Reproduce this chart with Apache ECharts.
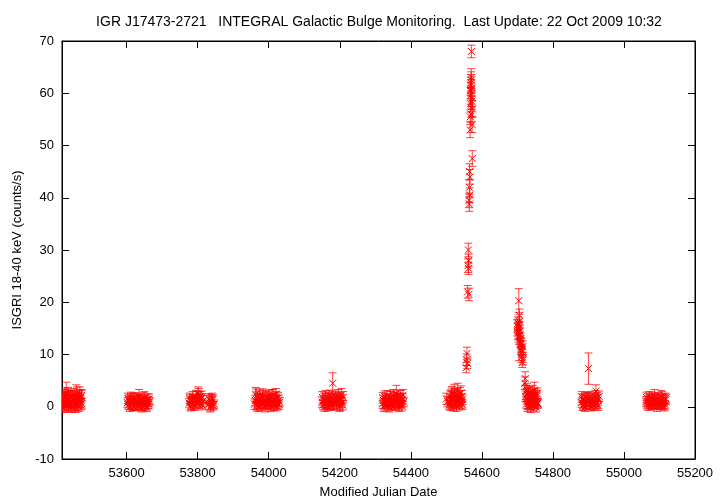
<!DOCTYPE html>
<html><head><meta charset="utf-8">
<script src="https://cdn.jsdelivr.net/npm/echarts@6/dist/echarts.min.js"></script>
<style>html,body{margin:0;padding:0;background:#fff}#c{width:720px;height:504px}</style>
</head><body><div id="c"></div>
<script>
const titleText = "IGR J17473-2721   INTEGRAL Galactic Bulge Monitoring.  Last Update: 22 Oct 2009 10:32";
const xTicks = [53600,53800,54000,54200,54400,54600,54800,55000,55200];
const yTicks = [-10,0,10,20,30,40,50,60,70];

// Cluster 1
const mjd1 = [53419,53420,53421,53422,53423,53424,53425,53426,53427,53428,53429,53430,53432,53433,53434,53435,53436,53437,53438,53440,53441,53442,53443,53444,53446,53447,53449,53450,53451,53452,53453,53455,53456,53458,53459,53460,53461,53462,53464,53465,53466,53467,53468,53470,53471,53472,53473,53474];
const rate1 = [1.2,0.0,0.5,1.5,2.1,-0.2,0.8,2.4,1.6,0.9,0.2,2.4,1.0,1.8,0.4,2.5,2.2,0.1,1.3,0.7,2.0,1.8,-0.1,0.1,1.1,1.9,2.0,0.3,0.6,2.3,1.5,0.9,-0.2,2.3,1.2,0.3,2.6,1.4,1.7,0.0,0.8,2.1,2.5,1.0,0.4,1.9,2.2,0.6];
const err1 = [1.1,1.0,1.0,1.1,1.2,0.9,0.9,1.2,1.3,1.0,1.0,2.3,1.1,1.0,1.0,1.2,1.2,0.9,1.1,0.9,1.1,1.3,1.0,1.0,1.1,1.0,1.2,0.9,1.0,1.2,1.1,0.9,0.9,1.9,1.0,1.0,1.2,1.2,1.1,0.9,1.0,1.1,1.3,1.1,1.0,1.2,1.1,1.0];
// Cluster 2
const mjd2 = [53602,53603,53605,53606,53608,53609,53611,53612,53614,53615,53617,53618,53620,53621,53623,53624,53626,53627,53629,53630,53632,53633,53635,53636,53638,53639,53641,53642,53644,53645,53647,53648,53650,53651,53653,53654,53656,53657,53659,53660,53662,53663,53665];
const rate2 = [0.8,1.6,0.3,1.2,1.4,-0.1,0.6,1.8,1.1,0.4,0.2,1.5,1.6,0.0,0.9,1.7,0.4,1.3,1.2,0.1,0.7,1.5,1.9,0.3,0.5,1.4,1.3,-0.2,0.1,1.1,1.0,1.7,1.6,0.2,0.3,1.2,0.8,-0.1,1.4,0.6,0.5,1.5,1.0];
const err2 = [0.9,1.0,0.8,0.9,1.0,0.8,0.9,1.0,0.8,0.9,0.9,1.0,1.0,0.8,0.8,1.0,0.9,0.9,1.0,0.8,0.9,1.0,1.4,0.8,0.8,1.0,1.0,0.8,0.9,0.9,0.8,1.0,1.3,0.8,0.9,0.9,0.8,0.8,1.0,0.9,0.9,1.0,0.8];
// Cluster 3
const mjd3 = [53776,53777,53779,53780,53782,53783,53785,53786,53788,53789,53791,53792,53794,53795,53797,53798,53800,53801,53803,53804,53806,53807,53809,53810,53812,53813,53815,53831,53832,53834,53835,53837,53838,53840,53841,53843,53844,53846];
const rate3 = [0.7,1.6,1.3,0.0,0.2,1.1,1.0,1.9,0.5,1.4,1.5,0.1,0.9,2.0,1.8,0.6,1.2,2.6,2.3,0.8,1.4,1.9,0.6,1.5,1.9,0.3,1.1,0.4,1.5,1.2,-0.1,0.1,1.3,0.9,1.6,1.4,0.2,0.5];
const err3 = [0.9,1.0,1.0,0.8,0.8,0.9,0.9,1.0,1.0,0.9,0.9,0.8,1.0,1.1,1.1,0.9,0.9,1.2,1.2,0.9,1.0,1.0,0.9,1.0,1.1,0.9,1.0,0.9,1.0,1.0,0.9,0.9,1.0,1.0,1.0,0.9,0.8,0.8];
// Cluster 4
const mjd4 = [53960,53962,53963,53965,53966,53968,53969,53971,53972,53974,53975,53977,53978,53980,53981,53983,53984,53986,53987,53989,53990,53992,53993,53995,53996,53998,53999,54001,54002,54004,54005,54007,54008,54010,54011,54013,54014,54016,54017,54019,54020,54022,54023,54025,54026,54028,54029,54031];
const rate4 = [0.5,1.2,2.4,2.1,0.1,0.5,1.9,1.6,0.0,0.8,2.2,0.2,1.5,1.4,0.7,1.9,2.3,0.6,1.3,1.1,-0.1,0.3,1.8,1.7,0.5,1.0,2.1,0.4,1.6,1.3,0.0,2.0,1.0,0.7,2.2,1.5,0.3,0.2,1.4,1.1,2.4,1.8,0.1,0.6,1.7,1.2,0.4,0.9];
const err4 = [1.0,1.0,1.3,1.3,0.9,0.9,1.1,1.0,0.9,1.1,1.2,0.9,1.0,1.0,0.9,1.2,1.1,0.9,1.0,1.0,0.9,0.9,1.1,1.1,0.9,1.0,1.1,0.9,1.0,1.0,0.9,1.2,0.9,0.9,1.1,1.0,0.9,0.9,1.0,1.0,1.1,1.1,0.9,0.9,1.0,1.0,0.9,0.9];
// Cluster 5
const mjd5 = [54150,54151,54153,54154,54156,54157,54159,54160,54162,54163,54165,54166,54168,54169,54171,54172,54174,54175,54177,54178,54180,54181,54183,54184,54186,54187,54189,54190,54192,54193,54195,54196,54198,54199,54201,54202,54204,54205,54207,54208,54210];
const rate5 = [0.9,1.8,0.3,1.2,1.5,0.0,0.7,2.0,1.2,0.5,0.1,1.6,1.7,0.4,0.8,2.1,1.3,0.2,0.5,1.9,4.5,1.0,1.4,0.3,0.6,1.8,1.9,0.9,0.4,1.5,1.1,2.2,1.6,0.0,0.2,1.4,1.3,2.3,0.8,0.3,1.8];
const err5 = [1.0,1.1,0.9,1.0,1.1,0.9,0.9,1.1,1.0,0.9,0.9,1.0,1.1,0.9,1.0,1.1,0.9,0.9,1.0,1.1,2.0,0.9,1.0,0.9,0.9,1.0,1.1,0.9,0.9,1.0,1.0,1.1,1.1,0.9,0.9,1.0,1.0,1.2,0.9,0.9,1.1];
// Cluster 6
const mjd6 = [54320,54321,54323,54324,54326,54327,54329,54330,54332,54333,54335,54336,54338,54339,54341,54342,54344,54345,54347,54348,54350,54351,54353,54354,54356,54357,54359,54360,54362,54363,54365,54366,54368,54369,54371,54372,54374,54375,54377,54378,54380];
const rate6 = [0.6,1.7,1.2,0.0,0.3,1.9,1.5,0.6,0.8,2.0,0.1,1.1,1.3,-0.1,0.7,1.9,1.8,0.3,0.4,1.4,1.1,2.2,1.6,0.2,0.5,1.8,2.5,1.0,0.9,2.1,1.4,0.0,0.3,1.6,1.2,2.0,0.7,0.1,1.5,2.2,0.9];
const err6 = [0.9,1.0,1.0,0.9,0.9,1.1,1.0,0.9,0.9,1.1,0.9,1.0,1.0,0.9,0.9,1.1,1.1,0.9,0.9,1.0,1.0,1.1,1.1,0.9,0.9,1.0,1.6,1.0,1.0,1.1,1.0,0.9,0.9,1.0,1.0,1.1,0.9,0.9,1.0,1.1,0.9];
// Cluster 7 (pre-outburst)
const mjd7 = [54500,54503,54508,54510,54511,54512,54513,54514,54515,54516,54518,54519,54520,54521,54522,54524,54525,54526,54528,54529,54530,54532,54533,54534,54536,54537,54538,54540,54541,54542,54544,54545,54546];
const rate7 = [1.5,1.0,0.3,0.8,1.9,2.0,0.2,1.2,2.4,2.6,0.5,1.0,1.7,0.1,2.9,1.1,2.2,0.7,2.3,0.0,1.5,3.1,1.2,0.9,1.9,0.3,2.5,1.3,2.7,0.6,2.0,0.4,1.4];
const err7 = [1.1,1.0,0.9,1.0,1.1,1.2,0.9,1.0,1.2,1.3,0.9,1.0,1.1,0.9,1.4,1.0,1.2,0.9,1.2,0.9,1.1,1.4,1.0,1.0,1.1,0.9,1.2,1.0,1.3,0.9,1.1,0.9,1.0];
// Outburst peak
const mjd8 = [54556,54557,54558,54559,54560,54561,54562,54562.5,54563,54563.5,54564,54564.5,54565,54565.5,54566,54566.5,54567,54567.5,54568,54568.2,54568.5,54569,54569.2,54569.5,54570,54570.2,54570.5,54571,54571.5,54572,54572.5,54573,54573.5];
const rate8 = [7.5,9.0,10.2,8.3,22.0,27.0,30.0,26.5,28.0,21.5,39.5,38.8,42.0,45.0,40.5,44.0,53.0,55.5,58.0,59.5,60.5,62.0,61.5,56.0,63.0,62.5,68.0,61.0,58.5,59.0,54.0,47.5,57.0];
const err8 = [1.0,1.1,1.2,1.0,1.2,1.3,1.3,1.2,1.2,1.2,1.4,1.4,1.4,1.5,1.4,1.4,1.5,1.5,1.6,1.6,1.6,1.6,1.6,1.5,1.7,1.6,1.2,1.6,1.6,1.6,1.5,1.5,1.6];
// Decay
const mjd9 = [54700,54700.5,54701,54702,54702.5,54703,54704,54704.5,54705,54705.5,54706,54707,54707.5,54708,54709,54709.5,54710,54711,54712,54712.5,54713,54714,54715,54716];
const rate9 = [15.5,14.8,14.0,16.0,15.2,13.5,20.3,12.5,15.0,16.4,17.5,14.5,13.8,12.5,13.0,12.2,11.0,12.0,9.5,10.8,10.5,8.5,11.5,9.0];
const err9 = [1.2,1.1,1.1,1.2,1.2,1.1,2.3,3.7,1.1,1.2,1.2,1.1,1.1,1.1,1.1,1.0,1.0,1.1,1.0,1.0,1.0,1.0,1.1,1.0];
// After decay
const mjd10 = [54721,54722,54723,54724,54725,54726,54727,54728,54729,54730,54731,54732,54733,54734,54735,54736,54737,54738,54739,54740,54741,54742,54743,54744,54745,54746,54747,54748,54749,54750,54751,54752,54753,54754,54755,54756,54757,54758];
const rate10 = [4.5,5.4,2.0,3.0,0.5,1.5,3.3,2.4,0.0,0.6,2.6,1.9,0.3,1.1,2.0,2.8,-0.2,0.4,1.7,1.6,0.8,2.2,3.0,0.8,1.4,1.3,0.1,3.2,1.2,0.5,2.3,1.8,-0.1,1.0,2.1,2.5,0.6,0.7];
const err10 = [1.2,1.3,1.0,1.1,0.9,1.0,1.2,1.1,0.9,0.9,1.1,1.0,0.9,1.0,1.0,1.1,0.9,0.9,1.0,1.0,0.9,1.1,1.1,0.9,1.0,1.0,0.9,1.5,1.0,0.9,1.1,1.0,0.9,0.9,1.0,1.1,0.9,0.9];
// Cluster 11
const mjd11 = [54880,54881,54883,54884,54886,54887,54889,54890,54892,54893,54895,54896,54898,54900,54901,54903,54904,54906,54907,54909,54910,54912,54913,54915,54916,54918,54919,54921,54922,54924,54925,54927,54928,54930];
const rate11 = [0.8,1.9,1.4,0.2,0.3,1.5,1.1,0.0,0.6,1.8,1.7,0.5,0.9,7.3,1.6,0.4,1.9,1.2,0.1,0.7,1.6,1.5,0.3,0.2,1.2,1.0,2.1,3.0,0.5,0.6,1.7,1.3,0.2,2.0];
const err11 = [0.9,1.0,1.0,0.9,0.9,1.0,1.0,0.9,0.9,1.0,1.0,0.9,0.9,3.0,1.0,0.9,1.0,1.0,0.9,0.9,1.0,1.0,0.9,0.9,1.0,1.0,1.0,1.2,0.9,0.9,1.0,1.0,0.9,1.0];
// Cluster 12
const mjd12 = [55062,55063,55065,55066,55068,55069,55071,55072,55074,55075,55077,55078,55080,55081,55083,55084,55086,55087,55089,55090,55092,55093,55095,55096,55098,55099,55101,55102,55104,55105,55107,55108,55110,55111,55113,55114,55116,55117,55119];
const rate12 = [1.0,1.8,0.4,1.1,1.5,0.1,0.8,1.9,1.2,0.5,0.2,1.4,1.7,0.3,0.9,1.6,2.0,0.6,0.5,1.3,1.3,-0.1,0.7,1.7,1.6,0.4,0.3,1.2,1.1,2.0,1.8,0.2,0.6,1.5,1.2,0.0,0.4,1.6,1.4];
const err12 = [0.9,1.0,0.8,0.9,1.0,0.8,0.9,1.0,1.0,0.9,0.8,1.0,1.1,0.8,0.9,1.0,1.3,0.9,0.9,1.0,1.0,0.8,0.9,1.0,1.0,0.8,0.8,1.0,1.0,1.1,1.1,0.8,0.9,1.0,1.0,0.8,0.8,1.0,1.0];

const groups = [[mjd1,rate1,err1],[mjd2,rate2,err2],[mjd3,rate3,err3],[mjd4,rate4,err4],[mjd5,rate5,err5],[mjd6,rate6,err6],[mjd7,rate7,err7],[mjd8,rate8,err8],[mjd9,rate9,err9],[mjd10,rate10,err10],[mjd11,rate11,err11],[mjd12,rate12,err12]];
const data = [];
groups.forEach(g => g[0].forEach((x,i) => data.push([x, g[1][i], g[2][i]])));

const font = 'Liberation Sans, Arial, sans-serif';
const plain = v => String(v);
const chart = echarts.init(document.getElementById('c'), null, {renderer:'canvas'});
chart.setOption({
  animation:false,
  backgroundColor:'#fff',
  title:{text:titleText,left:374,top:10,textAlign:'center',textStyle:{fontFamily:font,fontSize:14,fontWeight:'normal',color:'#000'}},
  grid:{left:62,right:25,top:41,bottom:43,show:true,borderColor:'#000',borderWidth:1,backgroundColor:'transparent'},
  xAxis:[{
    type:'value',min:53418,max:55200,
    name:'Modified Julian Date',nameLocation:'middle',nameGap:27,
    nameTextStyle:{fontFamily:font,fontSize:13,color:'#000'},
    axisLine:{show:true,onZero:false,lineStyle:{color:'#000',width:1}},
    axisTick:{show:true,inside:true,length:7,customValues:xTicks,lineStyle:{color:'#000'}},
    axisLabel:{customValues:xTicks,formatter:plain,fontFamily:font,fontSize:13,color:'#000',margin:8},
    splitLine:{show:false}
  },{
    type:'value',position:'top',min:53418,max:55200,
    axisLine:{show:true,onZero:false,lineStyle:{color:'#000'}},
    axisTick:{show:true,inside:true,length:7,customValues:xTicks,lineStyle:{color:'#000'}},
    axisLabel:{show:false},splitLine:{show:false}
  }],
  yAxis:[{
    type:'value',min:-10,max:70,interval:10,
    name:'ISGRI 18-40 keV (counts/s)',nameLocation:'middle',nameGap:37,nameRotate:90,
    nameTextStyle:{fontFamily:font,fontSize:13,color:'#000'},
    axisLine:{show:true,onZero:false,lineStyle:{color:'#000'}},
    axisTick:{show:true,inside:true,length:7,lineStyle:{color:'#000'}},
    axisLabel:{formatter:plain,fontFamily:font,fontSize:13,color:'#000',margin:8},
    splitLine:{show:false}
  },{
    type:'value',position:'right',min:-10,max:70,interval:10,
    axisLine:{show:true,onZero:false,lineStyle:{color:'#000'}},
    axisTick:{show:true,inside:true,length:7,lineStyle:{color:'#000'}},
    axisLabel:{show:false},splitLine:{show:false}
  }],
  series:[{
    type:'custom',clip:true,
    data:data,
    encode:{x:0,y:1},
    renderItem:function(params, api){
      const x = api.value(0), y = api.value(1), e = api.value(2);
      const p = api.coord([x,y]);
      const hi = api.coord([x,y+e]);
      const lo = api.coord([x,y-e]);
      const c = 4, s = 3.5;
      const bar = {stroke:'rgba(255,0,0,0.75)',lineWidth:1,fill:null};
      const mk = {stroke:'#ff0000',lineWidth:1,fill:null};
      return {type:'group',children:[
        {type:'line',shape:{x1:p[0],y1:hi[1],x2:p[0],y2:lo[1]},style:bar},
        {type:'line',shape:{x1:p[0]-c,y1:hi[1],x2:p[0]+c,y2:hi[1]},style:bar},
        {type:'line',shape:{x1:p[0]-c,y1:lo[1],x2:p[0]+c,y2:lo[1]},style:bar},
        {type:'line',shape:{x1:p[0]-s,y1:p[1]-s,x2:p[0]+s,y2:p[1]+s},style:mk},
        {type:'line',shape:{x1:p[0]-s,y1:p[1]+s,x2:p[0]+s,y2:p[1]-s},style:mk}
      ]};
    }
  }]
});
</script></body></html>
